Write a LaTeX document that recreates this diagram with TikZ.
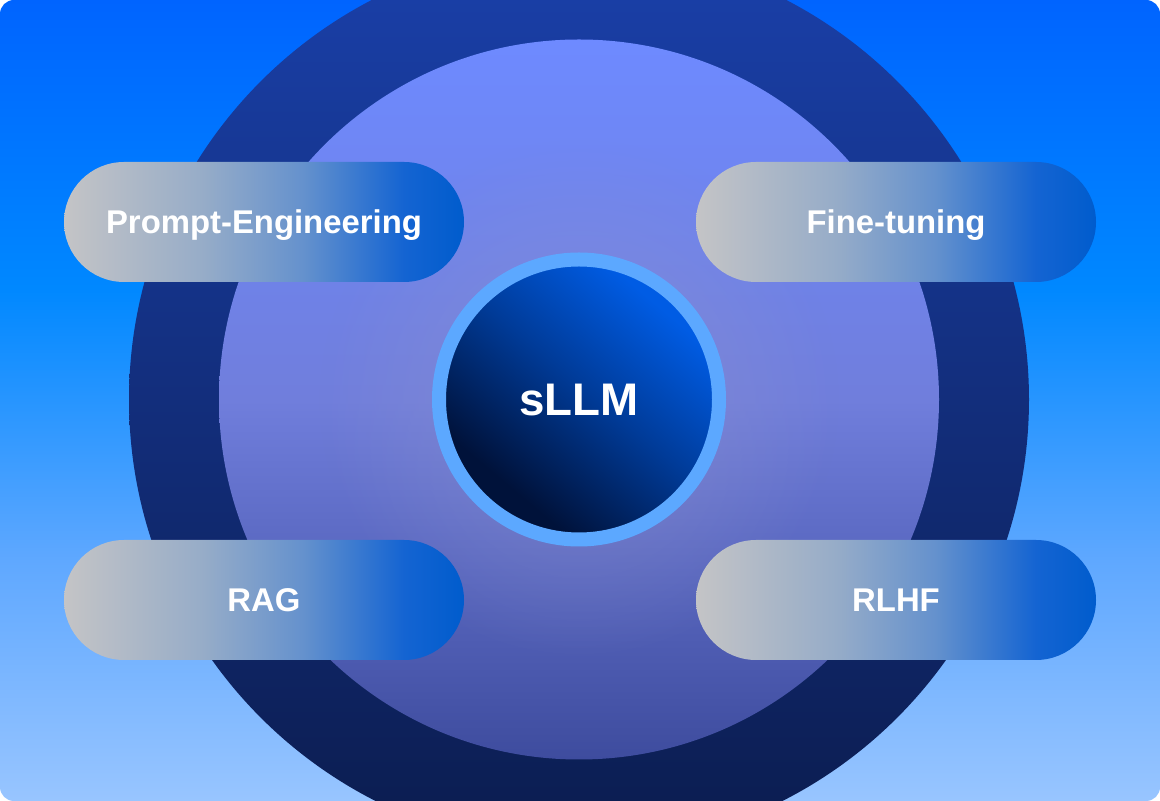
\documentclass[tikz,border=0pt]{standalone}
\usepackage{fontspec}
\setmainfont{Liberation Sans}
\definecolor{bgtop}{RGB}{0,100,255}
\definecolor{bgmid}{RGB}{0,136,255}
\definecolor{bglow}{RGB}{95,168,255}
\definecolor{bgbot}{RGB}{152,197,255}
\definecolor{outertop}{RGB}{26,64,170}
\definecolor{outerbot}{RGB}{11,28,78}
\definecolor{innertop}{RGB}{110,138,255}
\definecolor{innermid}{RGB}{112,126,220}
\definecolor{innerbot}{RGB}{62,76,158}
\definecolor{glowgray}{RGB}{140,145,205}
\definecolor{ringblue}{RGB}{92,168,255}
\definecolor{coretop}{RGB}{0,92,228}
\definecolor{corebot}{RGB}{0,18,58}
\definecolor{pillgray}{RGB}{196,196,198}
\definecolor{pillgb}{RGB}{150,172,200}
\definecolor{pillmid}{RGB}{100,145,205}
\definecolor{pillbl}{RGB}{20,100,210}
\definecolor{pillblue}{RGB}{0,92,205}
\usetikzlibrary{positioning,shapes.misc,fadings}
\pgfdeclareverticalshading{bgshade}{100bp}{color(0bp)=(bgbot); color(25bp)=(bgbot);
  color(40bp)=(bglow); color(57bp)=(bgmid); color(75bp)=(bgtop); color(100bp)=(bgtop)}
\pgfdeclareverticalshading{innershade}{100bp}{color(0bp)=(innerbot); color(25bp)=(innerbot);
  color(50bp)=(innermid); color(75bp)=(innertop); color(100bp)=(innertop)}
\pgfdeclarehorizontalshading{pillshade}{100bp}{color(0bp)=(pillgray); color(25bp)=(pillgray);
  color(42.5bp)=(pillgb); color(55bp)=(pillmid); color(67.5bp)=(pillbl);
  color(75bp)=(pillblue); color(100bp)=(pillblue)}
\pgfdeclareverticalshading{coreshade}{100bp}{color(0bp)=(corebot); color(30bp)=(corebot);
  color(52bp)=(coretop!55!corebot); color(72bp)=(coretop); color(100bp)=(coretop)}
\tikzfading[name=glowfade, inner color=transparent!35, outer color=transparent!100]
\tikzset{
  pill/.style={rounded rectangle,shade,shading=pillshade,minimum width=8cm,
               minimum height=2.4cm,inner sep=0pt,text=white,
               text height=13.2pt,text depth=0pt,
               font=\bfseries\fontsize{18.7}{22}\selectfont},
  core/.style={circle,draw=ringblue,line width=0.28cm,minimum size=5.6cm,
               shade,shading=coreshade,shading angle=-40,
               text height=18.6pt,text depth=0pt,
               text=white,font=\bfseries\fontsize{26}{30}\selectfont},
}
\begin{document}
\begin{tikzpicture}
    \useasboundingbox (0,0) rectangle (23.2,16.02);
    \shade[shading=bgshade,rounded corners=0.28cm] (0,0) rectangle (23.2,16.02);
    \coordinate (c) at (11.58,8.03);

    % rings
    \begin{scope}
      \clip[rounded corners=0.28cm] (0,0) rectangle (23.2,16.02);
      \shade[top color=outertop,bottom color=outerbot] (c) circle (9cm);
      \shade[shading=innershade] (c) circle (7.2cm);
      \fill[glowgray,path fading=glowfade] (c) circle (5.2cm);
    \end{scope}

    \node[core] (sllm) at (c) {sLLM};

    \node[pill] (prompt) at (5.28,11.58) {Prompt-Engineering};
    \node[pill] (finetune) at (17.92,11.58) {Fine-tuning};
    \node[pill] (rag) at (5.28,4.02) {RAG};
    \node[pill] (rlhf) at (17.92,4.02) {RLHF};
\end{tikzpicture}
\end{document}
